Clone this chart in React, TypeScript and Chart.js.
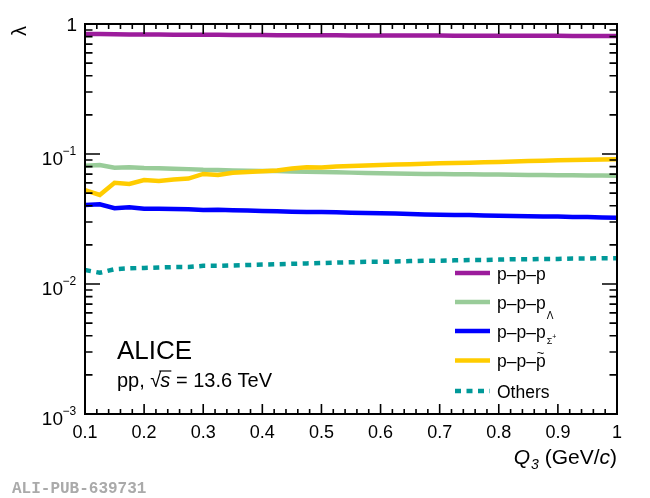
import { useEffect, useRef } from 'react';
import { Chart, registerables } from 'chart.js';

Chart.register(...registerables);

// Q3 bins (GeV/c)
const q3 = [
  0.1, 0.125, 0.15, 0.175, 0.2, 0.225, 0.25, 0.275, 0.3, 0.325, 0.35, 0.375,
  0.4, 0.425, 0.45, 0.475, 0.5, 0.525, 0.55, 0.575, 0.6, 0.625, 0.65, 0.675,
  0.7, 0.725, 0.75, 0.775, 0.8, 0.825, 0.85, 0.875, 0.9, 0.925, 0.95, 0.975, 1.0
];

const lambdaPPP = [
  0.838, 0.838, 0.833, 0.832, 0.83, 0.829, 0.828, 0.827, 0.826, 0.825, 0.824,
  0.823, 0.822, 0.821, 0.82, 0.819, 0.818, 0.818, 0.817, 0.816, 0.816, 0.815,
  0.815, 0.814, 0.814, 0.813, 0.813, 0.812, 0.812, 0.812, 0.811, 0.811, 0.811,
  0.81, 0.81, 0.81, 0.809
];

const lambdaPPPLambda = [
  0.0813, 0.0823, 0.0784, 0.079, 0.078, 0.0778, 0.0771, 0.0765, 0.0755, 0.0752,
  0.0748, 0.0744, 0.0741, 0.0739, 0.0734, 0.073, 0.0727, 0.0723, 0.0719, 0.0713,
  0.071, 0.0708, 0.0705, 0.0703, 0.0701, 0.0699, 0.0698, 0.0696, 0.0694, 0.0692,
  0.069, 0.0688, 0.0687, 0.0685, 0.0684, 0.0682, 0.0681
];

const lambdaPPPSigma = [
  0.0405, 0.041, 0.0383, 0.0389, 0.038, 0.038, 0.0377, 0.0376, 0.0371, 0.0373,
  0.0369, 0.0367, 0.0365, 0.0362, 0.036, 0.0358, 0.0358, 0.0356, 0.0354, 0.0352,
  0.035, 0.0348, 0.0346, 0.0343, 0.0341, 0.034, 0.0339, 0.0337, 0.0335, 0.0334,
  0.0332, 0.0331, 0.033, 0.0328, 0.0327, 0.0325, 0.0324
];

const lambdaPPPTilde = [
  0.0528, 0.0484, 0.0601, 0.0588, 0.0631, 0.062, 0.0637, 0.0647, 0.0702, 0.0689,
  0.0718, 0.0727, 0.0736, 0.0747, 0.0773, 0.079, 0.0787, 0.0801, 0.0808, 0.0815,
  0.0823, 0.0829, 0.0835, 0.0841, 0.0848, 0.0853, 0.0857, 0.0863, 0.0869, 0.0876,
  0.0882, 0.0888, 0.0894, 0.0899, 0.0904, 0.0907, 0.091
];

const lambdaOthers = [
  0.0128, 0.0122, 0.013, 0.0132, 0.0133, 0.0134, 0.0135, 0.0135, 0.0138, 0.0138,
  0.0139, 0.014, 0.0141, 0.0142, 0.0143, 0.0144, 0.0145, 0.0146, 0.0147, 0.0148,
  0.0148, 0.0149, 0.015, 0.0151, 0.0151, 0.0152, 0.0153, 0.0153, 0.0154, 0.0155,
  0.0155, 0.0156, 0.0156, 0.0157, 0.0157, 0.0158, 0.0158
];

const xTickLabels = ['0.1', '0.2', '0.3', '0.4', '0.5', '0.6', '0.7', '0.8', '0.9', '1'];
const yDecades = [0.001, 0.01, 0.1, 1];
const yExponents = ['\u22123', '\u22122', '\u22121', ''];

const COLORS = {
  ppp: '#9c1c9c',
  lam: '#99cc99',
  sig: '#0000ff',
  tilde: '#ffcc00',
  others: '#009999'
};

const FONT = '"Liberation Sans", Arial, Helvetica, sans-serif';

const toPoints = (ys: number[]) => q3.map((x, i) => ({ x, y: ys[i] }));

const rootStyle = {
  id: 'rootStyle',
  afterDraw(chart: Chart) {
    const { ctx, chartArea: a } = chart;
    const xs = chart.scales.x;
    const ys = chart.scales.y;
    ctx.save();

    // tick marks, inside the frame on all four sides
    ctx.strokeStyle = '#000';
    ctx.lineWidth = 1.6;
    ctx.beginPath();
    for (let i = 0; i <= 45; i++) {
      const px = xs.getPixelForValue(0.1 + i * 0.02);
      const len = i % 5 === 0 ? 10 : 5;
      ctx.moveTo(px, a.bottom);
      ctx.lineTo(px, a.bottom - len);
      ctx.moveTo(px, a.top);
      ctx.lineTo(px, a.top + len);
    }
    for (let e = -3; e < 0; e++) {
      for (let m = 1; m <= 9; m++) {
        const py = ys.getPixelForValue(m * Math.pow(10, e));
        const len = m === 1 ? 15 : 7.5;
        ctx.moveTo(a.left, py);
        ctx.lineTo(a.left + len, py);
        ctx.moveTo(a.right, py);
        ctx.lineTo(a.right - len, py);
      }
    }
    ctx.stroke();
    ctx.lineWidth = 2;
    ctx.strokeRect(a.left, a.top, a.right - a.left, a.bottom - a.top);

    // y labels: 10^n
    ctx.fillStyle = '#000';
    ctx.textBaseline = 'alphabetic';
    yDecades.forEach((v, i) => {
      const py = ys.getPixelForValue(v);
      if (yExponents[i] === '') {
        ctx.font = `19px ${FONT}`;
        ctx.textAlign = 'right';
        ctx.fillText('1', a.left - 8, py + 7);
        return;
      }
      ctx.font = `19px ${FONT}`;
      ctx.textAlign = 'right';
      ctx.fillText('10', a.left - 22, py + 11);
      ctx.font = `12px ${FONT}`;
      ctx.textAlign = 'left';
      ctx.fillText(yExponents[i], a.left - 22.5, py + 1);
    });

    // y title
    ctx.save();
    ctx.translate(20, 26);
    ctx.rotate(-Math.PI / 2);
    ctx.font = `20px ${FONT}`;
    ctx.textAlign = 'right';
    ctx.textBaseline = 'middle';
    ctx.fillText('\u03bb', 0, 0);
    ctx.restore();

    // x title: Q3 (GeV/c)
    const tb = 464;
    let tx = a.right;
    const rightParts: [string, string][] = [
      [')', `21px ${FONT}`],
      ['c', `italic 21px ${FONT}`],
      ['(GeV/', `21px ${FONT}`],
      [' ', `21px ${FONT}`]
    ];
    ctx.textAlign = 'right';
    rightParts.forEach(([t, f]) => {
      ctx.font = f;
      ctx.fillText(t, tx, tb);
      tx -= ctx.measureText(t).width;
    });
    ctx.font = `italic 14px ${FONT}`;
    ctx.fillText('3', tx, tb + 5);
    tx -= ctx.measureText('3').width + 1;
    ctx.font = `italic 21px ${FONT}`;
    ctx.fillText('Q', tx, tb);

    // ALICE label
    ctx.textAlign = 'left';
    ctx.font = `26px ${FONT}`;
    ctx.fillText('ALICE', 117, 359);
    let sx = 117;
    const sb = 387;
    ctx.font = `20px ${FONT}`;
    ctx.fillText('pp, ', sx, sb);
    sx += ctx.measureText('pp, ').width;
    ctx.fillText('\u221a', sx, sb);
    sx += ctx.measureText('\u221a').width - 1;
    ctx.font = `italic 20px ${FONT}`;
    const sw = ctx.measureText('s').width;
    ctx.fillText('s', sx, sb);
    ctx.lineWidth = 1.2;
    ctx.beginPath();
    ctx.moveTo(sx - 1, sb - 16);
    ctx.lineTo(sx + sw + 1, sb - 16);
    ctx.stroke();
    sx += sw;
    ctx.font = `20px ${FONT}`;
    ctx.fillText(' = 13.6 TeV', sx, sb);

    // legend
    const items = [
      { c: COLORS.ppp, dash: [] as number[], y: 273 },
      { c: COLORS.lam, dash: [], y: 302 },
      { c: COLORS.sig, dash: [], y: 331 },
      { c: COLORS.tilde, dash: [], y: 360.5 },
      { c: COLORS.others, dash: [6, 5.5], y: 391 }
    ];
    items.forEach((it, i) => {
      ctx.strokeStyle = it.c;
      ctx.lineWidth = 4.5;
      ctx.setLineDash(it.dash);
      ctx.beginPath();
      ctx.moveTo(455, it.y);
      ctx.lineTo(490, it.y);
      ctx.stroke();
      ctx.setLineDash([]);
      const lb = it.y + 6.5;
      ctx.fillStyle = '#000';
      ctx.font = `17.5px ${FONT}`;
      ctx.textAlign = 'left';
      const txt = i === 4 ? 'Others' : 'p\u2013p\u2013p';
      ctx.fillText(txt, 497, lb);
      const w = ctx.measureText(txt).width;
      if (i === 1) {
        ctx.font = `10px ${FONT}`;
        ctx.fillText('\u039b', 497 + w + 1, lb + 10);
      } else if (i === 2) {
        ctx.font = `9px ${FONT}`;
        ctx.fillText('\u03a3', 497 + w + 1, lb + 6);
        const ws = ctx.measureText('\u03a3').width;
        ctx.font = `7px ${FONT}`;
        ctx.fillText('+', 497 + w + 1 + ws, lb + 1);
      } else if (i === 3) {
        ctx.font = `13px ${FONT}`;
        ctx.textAlign = 'center';
        ctx.fillText('~', 497 + w - 5, lb - 10);
      }
    });

    // publication id
    ctx.fillStyle = '#aaaaaa';
    ctx.textAlign = 'left';
    ctx.font = `bold 16px "Liberation Mono", "DejaVu Sans Mono", monospace`;
    ctx.fillText('ALI-PUB-639731', 12, 493);

    ctx.restore();
  }
};

export default function App() {
  const canvasRef = useRef<HTMLCanvasElement>(null);
  const chartRef = useRef<Chart | null>(null);

  useEffect(() => {
    if (!canvasRef.current) return;
    const ctx = canvasRef.current.getContext('2d');
    if (!ctx) return;
    if (chartRef.current) chartRef.current.destroy();

    const line = (data: number[], color: string, order: number, dash: number[] = []) => ({
      data: toPoints(data),
      borderColor: color,
      backgroundColor: color,
      borderWidth: 4.5,
      borderDash: dash,
      pointRadius: 0,
      tension: 0,
      fill: false,
      order
    });

    chartRef.current = new Chart(ctx, {
      type: 'line',
      data: {
        datasets: [
          line(lambdaPPP, COLORS.ppp, 2),
          line(lambdaPPPLambda, COLORS.lam, 3),
          line(lambdaPPPSigma, COLORS.sig, 4),
          line(lambdaPPPTilde, COLORS.tilde, 0),
          line(lambdaOthers, COLORS.others, 1, [6, 5.5])
        ]
      },
      options: {
        responsive: false,
        animation: false,
        layout: { padding: { top: 24, right: 33, left: 0, bottom: 0 } },
        plugins: {
          legend: { display: false },
          tooltip: { enabled: false }
        },
        scales: {
          x: {
            type: 'linear',
            min: 0.1,
            max: 1,
            grid: { display: false, drawTicks: false },
            border: { display: false },
            ticks: {
              stepSize: 0.1,
              autoSkip: false,
              maxRotation: 0,
              padding: 8,
              color: '#000',
              font: { family: FONT, size: 18 },
              callback: (_v, i) => xTickLabels[i] ?? ''
            },
            afterFit: (s) => {
              s.height = 84;
            }
          },
          y: {
            type: 'logarithmic',
            min: 0.001,
            max: 1,
            grid: { display: false, drawTicks: false },
            border: { display: false },
            ticks: { display: false },
            afterFit: (s) => {
              s.width = 85;
            }
          }
        }
      },
      plugins: [rootStyle]
    });

    return () => {
      if (chartRef.current) {
        chartRef.current.destroy();
        chartRef.current = null;
      }
    };
  }, []);

  return (
    <div style={{ position: 'fixed', left: 0, top: 0, width: 650, height: 498, background: '#fff' }}>
      <canvas ref={canvasRef} width={650} height={498} style={{ display: 'block' }} />
    </div>
  );
}
